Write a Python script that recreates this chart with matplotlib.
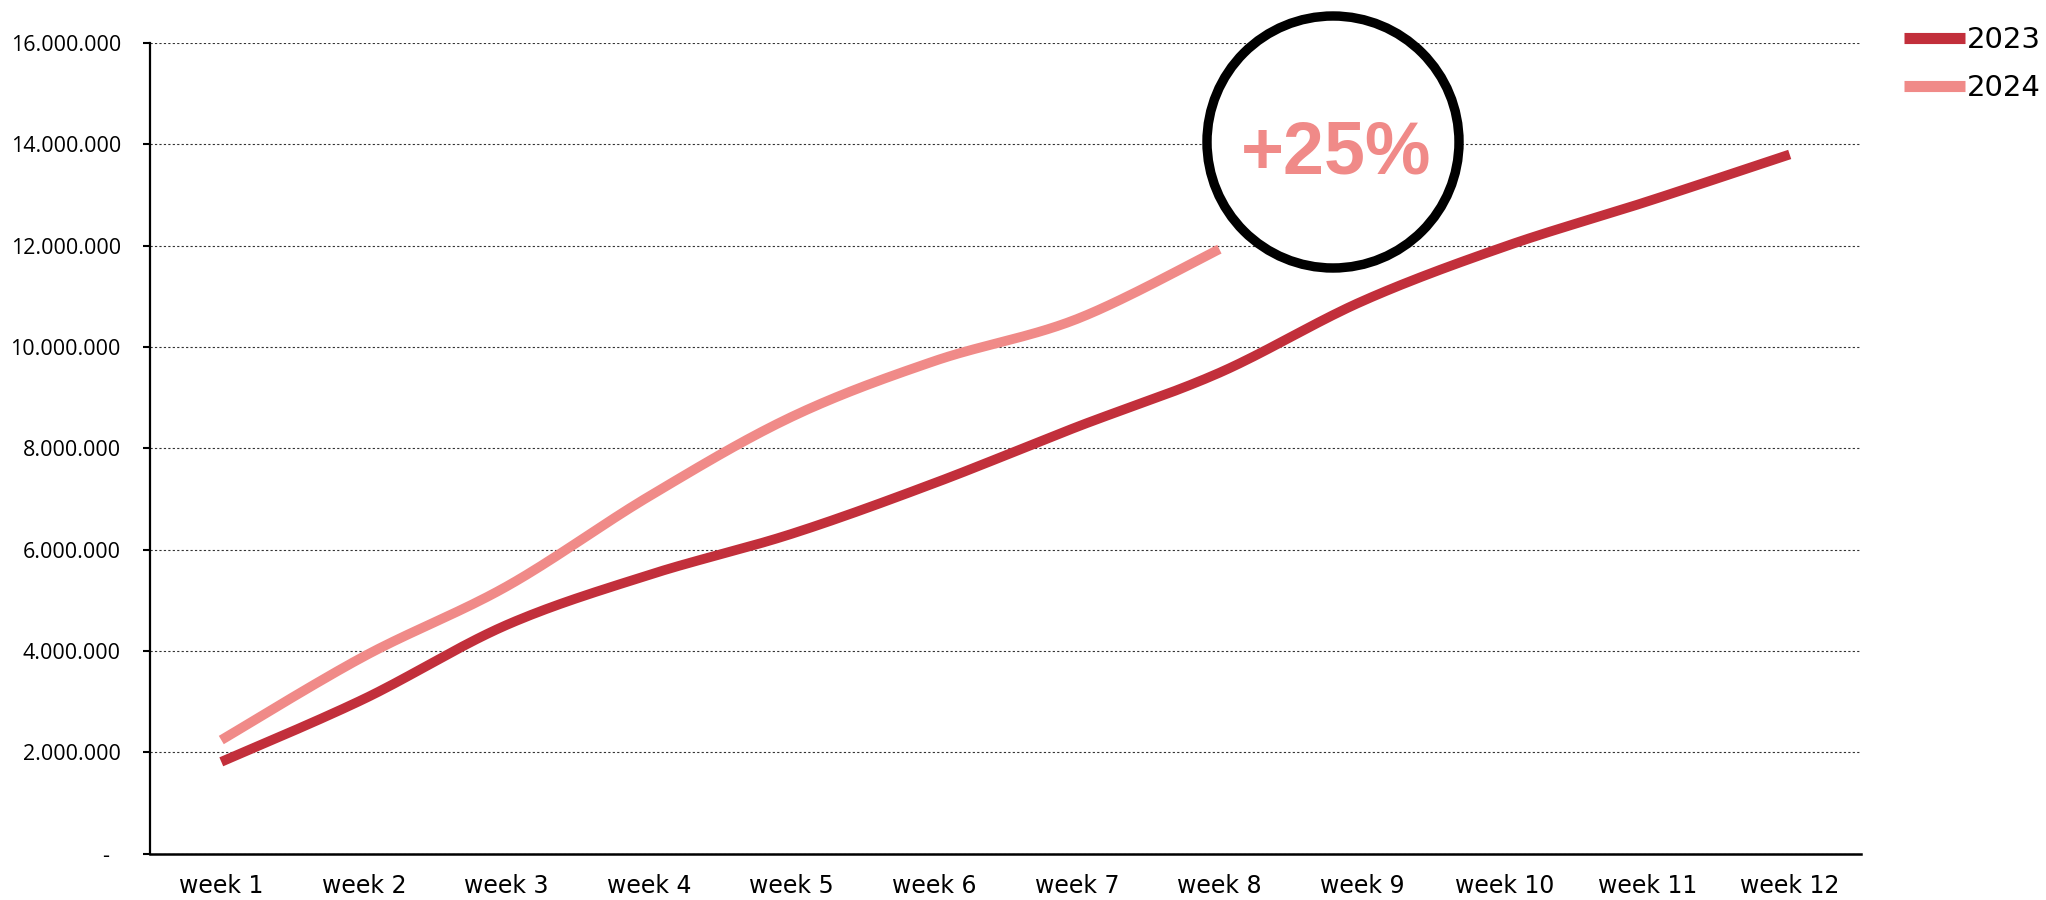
import numpy as np
import matplotlib
matplotlib.use("Agg")
import matplotlib.pyplot as plt
from matplotlib.ticker import FuncFormatter, MultipleLocator
from matplotlib.patches import Circle

weeks = ["week 1", "week 2", "week 3", "week 4", "week 5", "week 6",
         "week 7", "week 8", "week 9", "week 10", "week 11", "week 12"]
values_2023 = [1810000, 3050000, 4510000, 5500000, 6310000, 7310000,
               8420000, 9490000, 10900000, 11980000, 12870000, 13800000]
values_2024 = [2240000, 3890000, 5270000, 7050000, 8620000, 9720000,
               10550000, 11930000]
series_names = ["2023", "2024"]
annotation = "+25%"

COL_2023 = "#C22F3B"
COL_2024 = "#F08A88"


def catmull_rom(x, y, n=30):
    x = np.asarray(x, float)
    y = np.asarray(y, float)
    px = np.concatenate([[x[0]], x, [x[-1]]])
    py = np.concatenate([[y[0]], y, [y[-1]]])
    t = np.linspace(0, 1, n)[:-1]
    xs, ys = [], []
    for i in range(1, len(px) - 2):
        for arr, out in ((px, xs), (py, ys)):
            p0, p1, p2, p3 = arr[i - 1], arr[i], arr[i + 1], arr[i + 2]
            out.append(0.5 * ((2 * p1) + (-p0 + p2) * t
                              + (2 * p0 - 5 * p1 + 4 * p2 - p3) * t ** 2
                              + (-p0 + 3 * p1 - 3 * p2 + p3) * t ** 3))
    xs.append([x[-1]])
    ys.append([y[-1]])
    return np.concatenate(xs), np.concatenate(ys)


W, H = 2046, 900
fig = plt.figure(figsize=(W / 100, H / 100), dpi=100)
ax = fig.add_axes([150 / W, 1 - 853.5 / H, (1861 - 150) / W, (853.5 - 43) / H])

x23 = np.arange(len(values_2023))
x24 = np.arange(len(values_2024))
sx, sy = catmull_rom(x23, values_2023)
l23, = ax.plot(sx, sy, color=COL_2023, lw=7, solid_capstyle="butt",
               solid_joinstyle="round", label=series_names[0], zorder=3)
sx, sy = catmull_rom(x24, values_2024)
l24, = ax.plot(sx, sy, color=COL_2024, lw=7, solid_capstyle="butt",
               solid_joinstyle="round", label=series_names[1], zorder=3)

ax.set_xlim(-0.5, len(weeks) - 0.5)
ax.set_ylim(0, 16000000)
ax.set_xticks(np.arange(len(weeks)))
ax.set_xticklabels(weeks, fontfamily="DejaVu Sans", fontsize=17)
ax.yaxis.set_major_locator(MultipleLocator(2000000))


def fmt(v, pos):
    if abs(v) < 1:
        return "-  "
    return f"{int(round(v)):,}".replace(",", ".")


ax.yaxis.set_major_formatter(FuncFormatter(fmt))
for lab in ax.get_yticklabels():
    lab.set_fontfamily("Open Sans")
ax.tick_params(axis="y", labelsize=15.5, length=5, width=1.5, pad=16, direction="out")
ax.tick_params(axis="x", length=0, pad=15)
ax.grid(axis="y", linestyle=(0, (2, 2)), color="#333333", lw=0.8, zorder=0)
ax.set_axisbelow(True)
for s in ("top", "right"):
    ax.spines[s].set_visible(False)
ax.spines["left"].set_linewidth(1.6)
ax.spines["bottom"].set_linewidth(1.8)

circ = Circle((1333 / 100, (H - 142) / 100), 1.26, transform=fig.dpi_scale_trans,
              facecolor="white", edgecolor="black", lw=6.8, zorder=5, clip_on=False)
fig.patches.append(circ)
fig.text(1336 / W, 1 - 173 / H, annotation, ha="center", va="baseline",
         fontsize=53, fontweight="bold", fontfamily="Liberation Sans",
         color=COL_2024, zorder=6)

leg = fig.legend(handles=[l23, l24], labels=series_names, loc="center left",
                 bbox_to_anchor=(1904 / W, 1 - 64 / H), frameon=False,
                 prop={"family": "DejaVu Sans", "size": 21},
                 handlelength=2.1, handletextpad=0.05, labelspacing=0.7,
                 borderpad=0, borderaxespad=0)
for h in leg.legend_handles:
    h.set_linewidth(8)

fig.savefig("out.png", dpi=100)
